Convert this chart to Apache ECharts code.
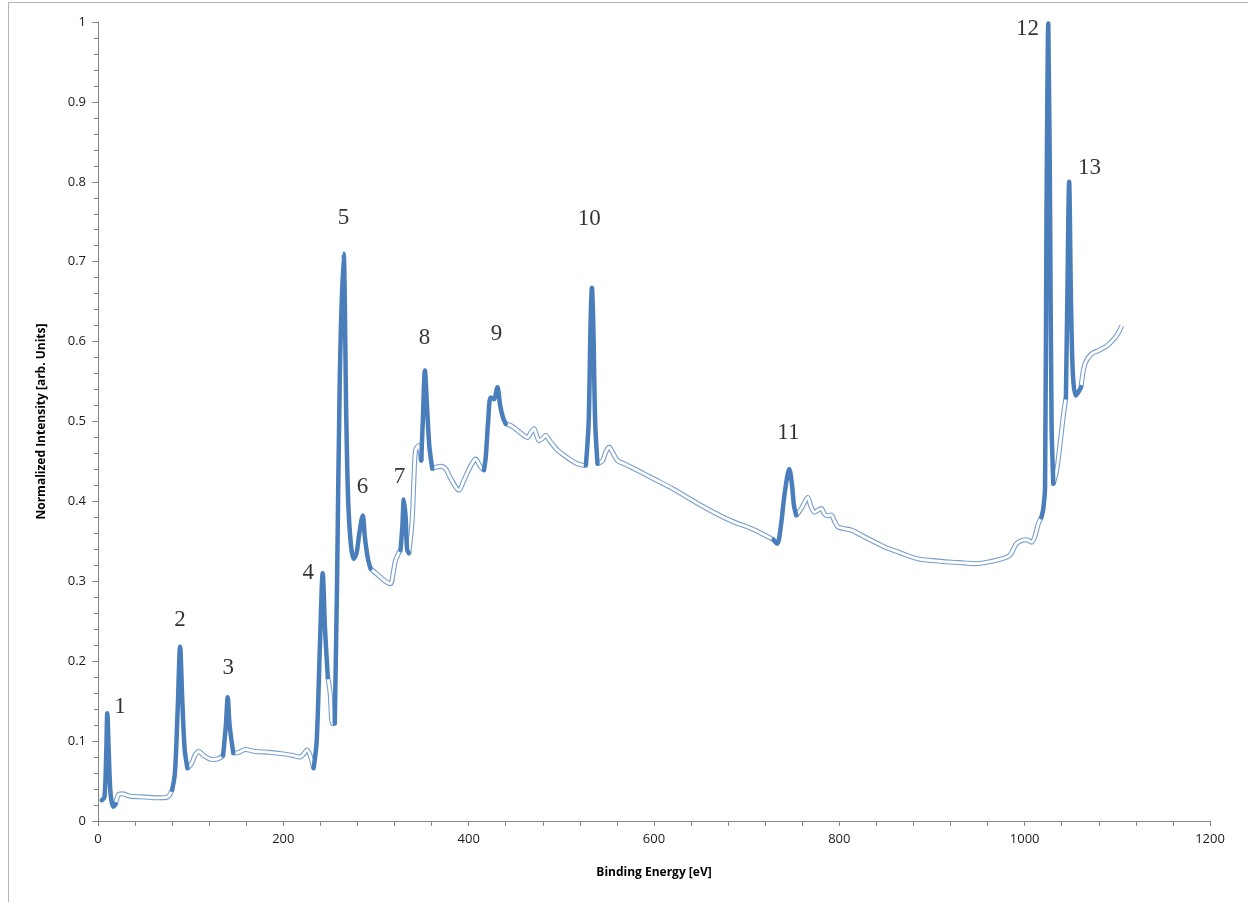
<!DOCTYPE html>
<html>
<head>
<meta charset="utf-8">
<script src="https://cdn.jsdelivr.net/npm/echarts@6/dist/echarts.min.js"></script>
<style>
html,body{margin:0;padding:0;background:#fff;}
#chart{width:1248px;height:902px;}
</style>
</head>
<body>
<div id="chart"></div>
<script>
// Spectrum: binding energy (eV) and normalized intensity
const energy = [4,7,9,10,11.5,13.5,16.5,19,22,26,35,50,65,75,
  80,83,86,88.6,91,93.5,96.5,101,105,109,114,123,130,
  135,138,140,142,146,152,159,170,185,200,210,218,222,225.6,229,
  232.7,236,239.5,242.5,245,248,250.5,253,
  255.5,258,261,265,268,270,273,276,279,282,285.7,288,291,294,
  300,305,310,315.7,318.5,321,324.7,
  326.5,328.5,330,332,333.5,335.5,339,341,342.7,346,
  348.8,350.5,352.8,355,357.5,360.7,365,369.7,375,380,386,389.6,394,398.6,403,407.5,411,413,
  416.5,418.4,421,423.7,427.3,431,434,437,440,
  445.4,452.6,458,463.4,467,470.6,473,476,480,483,488,496,505,514,520,
  526.5,529.5,531.5,533,534.5,536.5,539,
  544.5,548,551.7,555,560.7,570,582,600,620,650.8,670,686.8,705,
  729,733,737,741,746,749,751,753.5,
  759,763,766,769,773,777,780.5,784,787,791,795,798.5,805,813,830,849,865,885,900,921,935,946,960,975,984,991,996.7,1002,1007.5,1011,1014.7,
  1018,1020,1022,1023.5,1025.5,1027.5,1029,1030.9,
  1034.6,1038,1041.8,
  1044.5,1046,1048,1050,1052,1055,1058,1060.8,
  1065,1072,1080,1086.7,1092,1097.6,1102,1104.8];
const intensity = [0.026,0.03,0.09,0.135,0.09,0.035,0.018,0.021,0.033,0.034,0.031,0.030,0.029,0.030,
  0.039,0.06,0.14,0.218,0.15,0.09,0.066,0.072,0.083,0.087,0.082,0.077,0.078,
  0.082,0.12,0.155,0.12,0.085,0.086,0.0895,0.087,0.086,0.084,0.082,0.080,0.084,0.089,0.082,
  0.066,0.10,0.22,0.31,0.24,0.18,0.16,0.122,
  0.122,0.30,0.56,0.71,0.50,0.40,0.345,0.328,0.335,0.36,0.3825,0.355,0.33,0.316,
  0.31,0.305,0.30,0.297,0.31,0.326,0.336,
  0.339,0.37,0.4025,0.38,0.34,0.335,0.376,0.43,0.464,0.47,
  0.451,0.50,0.5637,0.52,0.47,0.441,0.443,0.444,0.441,0.43,0.418,0.414,0.424,0.436,0.446,0.453,0.447,0.443,
  0.439,0.455,0.50,0.530,0.528,0.543,0.52,0.505,0.497,
  0.495,0.489,0.484,0.480,0.486,0.491,0.484,0.476,0.479,0.4825,0.475,0.464,0.456,0.449,0.446,
  0.445,0.50,0.62,0.6675,0.62,0.50,0.447,
  0.451,0.462,0.468,0.462,0.451,0.446,0.439,0.428,0.416,0.395,0.383,0.374,0.366,
  0.352,0.347,0.37,0.41,0.4405,0.42,0.395,0.3825,
  0.391,0.400,0.405,0.395,0.3866,0.389,0.391,0.384,0.382,0.383,0.375,0.368,0.366,0.364,0.354,0.343,0.336,0.328,0.326,0.324,0.323,0.322,0.324,0.328,0.3325,0.347,0.351,0.352,0.349,0.356,0.372,
  0.380,0.39,0.418,0.75,0.998,0.75,0.5,0.422,
  0.439,0.47,0.508,
  0.530,0.65,0.80,0.65,0.56,0.5325,0.537,0.543,
  0.572,0.5845,0.589,0.593,0.598,0.605,0.613,0.62];

// Energy windows drawn as bold peak segments
const peakStart = [4,80,135,232.7,255.5,326.5,348.8,416.5,526.5,729,1018,1044.5];
const peakEnd   = [19,96.5,146,248,294,335.5,360.7,440,539,753.5,1030.9,1060.8];

// Peak numbers and where they sit
const labelText = ['1','2','3','4','5','6','7','8','9','10','11','12','13'];
const labelX = [23.8,88.6,140.5,227,265,285.4,325.4,352.4,430,530,745,1003,1070];
const labelY = [0.1425,0.251,0.191,0.311,0.755,0.4175,0.43,0.605,0.609,0.754,0.486,0.991,0.8175];

const xTicks = [0,200,400,600,800,1000,1200];
const yTicks = [0,0.1,0.2,0.3,0.4,0.5,0.6,0.7,0.8,0.9,1];

function inPeak(e, strict) {
  for (let i = 0; i < peakStart.length; i++) {
    if (strict ? (e > peakStart[i] && e < peakEnd[i]) : (e >= peakStart[i] && e <= peakEnd[i])) return true;
  }
  return false;
}
const bgData = [], peakData = [];
for (let i = 0; i < energy.length; i++) {
  const e = energy[i], v = intensity[i];
  bgData.push(inPeak(e, true) ? [e, null] : [e, v]);
  peakData.push(inPeak(e, false) ? [e, v] : [e, null]);
}
const peakSeries = [];
for (let i = 0; i < peakData.length; i++) {
  peakSeries.push(peakData[i]);
  if (i + 1 < peakData.length && peakData[i][1] !== null && peakData[i+1][1] !== null) {
    const e1 = peakData[i][0], e2 = peakData[i+1][0];
    if (peakEnd.indexOf(e1) >= 0 && peakStart.indexOf(e2) >= 0) peakSeries.push([ (e1+e2)/2, null ]);
  }
}
const labelData = labelText.map((t, i) => [labelX[i], labelY[i], t]);

const BLUE = '#4A7EBB';
const chart = echarts.init(document.getElementById('chart'), null, {renderer: 'canvas'});
chart.setOption({
  animation: false,
  backgroundColor: '#fff',
  grid: {left: 98, right: 38, top: 22, bottom: 81, containLabel: false},
  graphic: [{
    type: 'rect', shape: {x: 8.5, y: 2.5, width: 1400, height: 1200},
    style: {fill: 'none', stroke: '#b4b4b4', lineWidth: 1}, silent: true, z: -10
  }],
  xAxis: {
    type: 'value', min: 0, max: 1200, interval: 200,
    name: 'Binding Energy [eV]', nameLocation: 'middle', nameGap: 46,
    nameTextStyle: {fontFamily: 'Open Sans', fontWeight: 'bold', fontSize: 12, color: '#000'},
    axisLine: {show: true, lineStyle: {color: '#868686', width: 1}},
    axisTick: {show: true, length: 5, lineStyle: {color: '#868686'}},
    minorTick: {show: true, splitNumber: 5, length: 5, lineStyle: {color: '#868686'}},
    splitLine: {show: false},
    axisLabel: {fontFamily: 'Open Sans', fontSize: 13, color: '#1a1a1a', margin: 12,
      formatter: v => xTicks.indexOf(v) >= 0 ? String(v) : ''}
  },
  yAxis: {
    type: 'value', min: 0, max: 1, interval: 0.1,
    name: 'Normalized Intensity [arb. Units]', nameLocation: 'middle', nameGap: 50, nameRotate: 90,
    nameTextStyle: {fontFamily: 'Open Sans', fontWeight: 'bold', fontSize: 12, color: '#000'},
    axisLine: {show: true, lineStyle: {color: '#868686', width: 1}},
    axisTick: {show: true, length: 6, lineStyle: {color: '#868686'}},
    minorTick: {show: true, splitNumber: 5, length: 4, lineStyle: {color: '#868686'}},
    splitLine: {show: false},
    axisLabel: {fontFamily: 'Open Sans', fontSize: 13, color: '#1a1a1a', margin: 12,
      formatter: v => { const r = Math.round(v * 10) / 10; return yTicks.indexOf(r) >= 0 ? String(r) : ''; }}
  },
  series: [
    {type: 'line', data: bgData, showSymbol: false, smooth: 0.3, connectNulls: false, z: 2,
      lineStyle: {color: BLUE, width: 5, opacity: 0.75}},
    {type: 'line', data: bgData, showSymbol: false, smooth: 0.3, connectNulls: false, z: 3,
      lineStyle: {color: '#ffffff', width: 2.8}},
    {type: 'line', data: peakSeries, showSymbol: false, smooth: 0.3, connectNulls: false, z: 4,
      lineStyle: {color: BLUE, width: 4.5, cap: 'round', join: 'round'}},
    {type: 'scatter', data: labelData, symbolSize: 0, z: 5, silent: true,
      label: {show: true, position: 'inside', formatter: p => p.data[2],
        fontFamily: 'Liberation Serif', fontSize: 23, color: '#000'}}
  ]
});
</script>
</body>
</html>
